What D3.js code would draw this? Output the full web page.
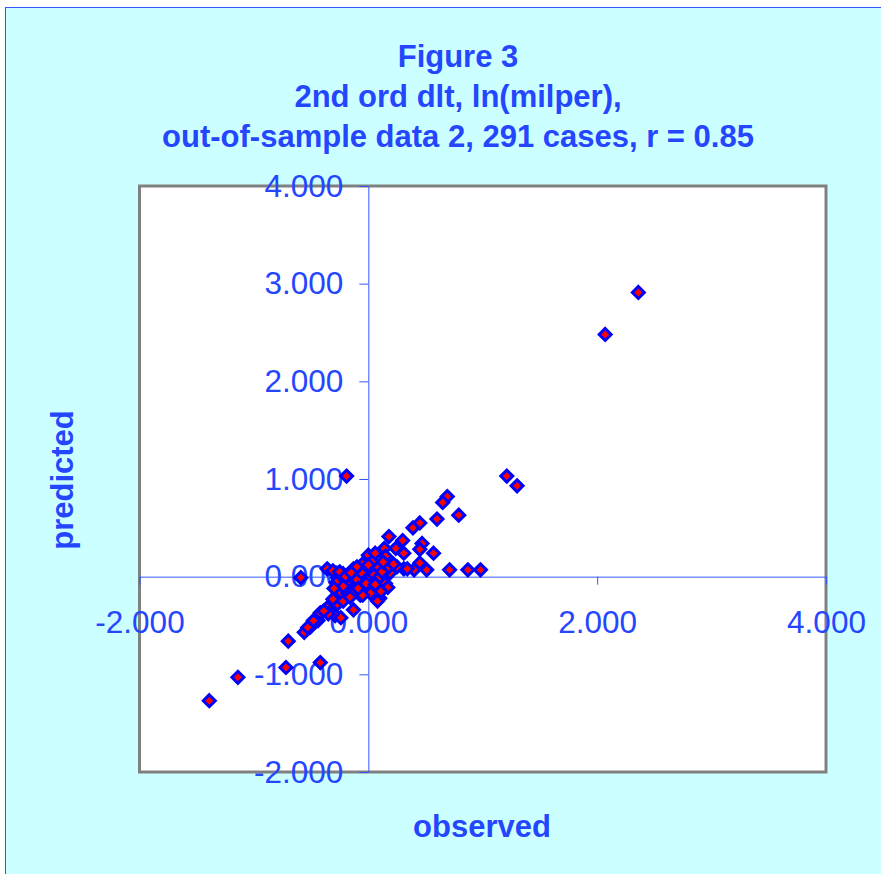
<!DOCTYPE html>
<html>
<head>
<meta charset="utf-8">
<script src="https://cdn.jsdelivr.net/npm/d3@7"></script>
<style>
  body { margin: 0; background: #ffffff; }
  text { font-family: "Liberation Sans", Arial, sans-serif; }
</style>
</head>
<body>
<div id="chart"></div>
<script>
"use strict";

var titleLines = ["Figure 3", "2nd ord dlt, ln(milper),", "out-of-sample data 2, 291 cases, r = 0.85"],
    xTitle = "observed",
    yTitle = "predicted",
    xTicks = [-2, 0, 2, 4],
    yTicks = [-2, -1, 0, 1, 2, 3, 4];

// observed (x) and predicted (y)
var observed = [
    2.36, 2.07, 1.21, 1.30, -0.19, 0.69, 0.65, 0.79, 0.60, 0.45,
    0.39, 0.18, 0.30, 0.47, 0.45, 0.57, 0.31, 0.14, 0.15, 0.45,
    0.71, 0.87, 0.98, 0.51, 0.40, 0.31, 0.25, 0.19, 0.09, -0.59,
    -0.36, -0.31, -0.70, -1.14, -1.39, -0.72, -0.42, -0.56, -0.51, -0.44,
    -0.42, -0.36, -0.27, -0.13, -0.29, -0.24, -0.23, -0.18, 0.00, 0.10,
    0.34, -0.13, -0.07, 0.00, -0.22, -0.27, -0.05, 0.02, 0.09, 0.15,
    -0.01, 0.08, 0.17, 0.22, -0.13, -0.07, -0.18, -0.11, -0.04, 0.03,
    0.17, -0.24, -0.18, -0.07, 0.02, -0.31, -0.22, -0.48, -0.53, 0.10,
    0.08, -0.35, -0.39, -0.14, -0.05, 0.04, -0.05, -0.10, 0.06, 0.24,
    -0.25, -0.20, -0.15, -0.10, -0.05, 0.00, 0.05, 0.10, 0.12, -0.28,
    -0.22, -0.12, -0.02, 0.06, 0.11, -0.16, -0.09, -0.30, 0.00, 0.13
];
var predicted = [
    2.91, 2.48, 1.03, 0.93, 1.03, 0.82, 0.76, 0.63, 0.59, 0.55,
    0.50, 0.41, 0.37, 0.34, 0.28, 0.24, 0.24, 0.29, 0.21, 0.14,
    0.07, 0.07, 0.07, 0.07, 0.07, 0.08, 0.10, 0.04, 0.06, -0.01,
    0.08, 0.06, -0.66, -1.03, -1.27, -0.93, -0.88, -0.57, -0.52, -0.45,
    -0.37, -0.32, -0.28, -0.34, -0.40, -0.42, -0.17, -0.14, 0.22, 0.11,
    0.08, 0.08, 0.06, 0.06, 0.03, -0.01, -0.02, -0.04, -0.04, -0.07,
    0.09, 0.09, 0.09, 0.13, -0.01, -0.02, -0.09, -0.09, -0.11, -0.12,
    -0.11, -0.16, -0.17, -0.19, -0.17, -0.23, -0.25, -0.45, -0.52, -0.22,
    -0.25, -0.38, -0.35, -0.17, -0.19, 0.16, 0.13, 0.10, 0.24, 0.29,
    0.05, 0.00, 0.04, -0.03, 0.03, -0.01, 0.02, 0.00, 0.05, -0.06,
    -0.10, -0.14, -0.07, -0.08, -0.15, -0.21, -0.12, -0.12, 0.12, 0.15
];

var width = 881,
    height = 874,
    plot = {left: 139.5, right: 826, top: 186, bottom: 772},
    textBlue = "#2546ff",
    axisBlue = "#3355ff";

// Excel style: plain hyphen for negatives, three decimals
var fmt = function (d) { return d3.format(".3f")(d).replace("\u2212", "-"); };

var svg = d3.select("#chart").append("svg")
    .attr("width", width)
    .attr("height", height);

// chart area: light cyan with a blue border
svg.append("rect")
    .attr("x", 5.5).attr("y", 7.5)
    .attr("width", width + 20).attr("height", height + 20)
    .attr("fill", "#ccffff")
    .attr("stroke", "#3355ff")
    .attr("stroke-width", 1);

var x = d3.scaleLinear().domain([-2, 4]).range([plot.left, plot.right]),
    y = d3.scaleLinear().domain([-2, 4]).range([plot.bottom, plot.top]);

// plot area
svg.append("rect")
    .attr("x", plot.left).attr("y", plot.top)
    .attr("width", plot.right - plot.left)
    .attr("height", plot.bottom - plot.top)
    .attr("fill", "#ffffff")
    .attr("stroke", "#808080")
    .attr("stroke-width", 3);

// axes cross at zero
var yAxis = svg.append("g")
    .attr("transform", "translate(" + x(0) + ",0)")
    .call(d3.axisLeft(y).tickValues(yTicks).tickFormat(fmt)
        .tickSize(9).tickSizeOuter(0).tickPadding(16));

var xAxis = svg.append("g")
    .attr("transform", "translate(0," + y(0) + ")")
    .call(d3.axisBottom(x).tickValues(xTicks).tickFormat(fmt)
        .tickSize(8).tickSizeOuter(0).tickPadding(26));

[xAxis, yAxis].forEach(function (g) {
    g.select(".domain").attr("stroke", axisBlue).attr("stroke-width", 1);
    g.selectAll(".tick line").attr("stroke", axisBlue);
    g.selectAll(".tick text")
        .attr("fill", textBlue)
        .style("font-size", "31.5px")
        .style("font-family", "'Liberation Sans', Arial, sans-serif");
});

// points: red diamonds with a blue outline
var r = 6;
svg.append("g")
    .selectAll("path")
    .data(observed.map(function (d, i) { return [d, predicted[i]]; }))
    .enter().append("path")
    .attr("transform", function (d) { return "translate(" + x(d[0]) + "," + y(d[1]) + ")"; })
    .attr("d", "M0," + (-r) + "L" + r + ",0L0," + r + "L" + (-r) + ",0Z")
    .attr("fill", "#ff0000")
    .attr("stroke", "#0000ff")
    .attr("stroke-width", 3);

// title
svg.append("g")
    .selectAll("text")
    .data(titleLines)
    .enter().append("text")
    .attr("x", 458)
    .attr("y", function (d, i) { return 67 + i * 40; })
    .attr("text-anchor", "middle")
    .attr("fill", textBlue)
    .style("font-size", "31px")
    .style("font-weight", "bold")
    .text(function (d) { return d; });

svg.append("text")
    .attr("x", 482)
    .attr("y", 837)
    .attr("text-anchor", "middle")
    .attr("fill", textBlue)
    .style("font-size", "31px")
    .style("font-weight", "bold")
    .text(xTitle);

svg.append("text")
    .attr("transform", "translate(73,480) rotate(-90)")
    .attr("text-anchor", "middle")
    .attr("fill", textBlue)
    .style("font-size", "31px")
    .style("font-weight", "bold")
    .text(yTitle);
</script>
</body>
</html>
